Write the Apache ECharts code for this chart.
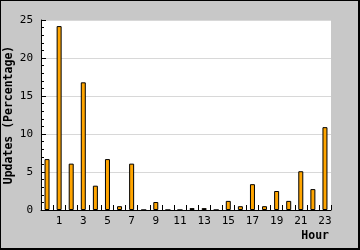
<!DOCTYPE html>
<html>
<head>
<meta charset="utf-8">
<script src="https://cdn.jsdelivr.net/npm/echarts@6/dist/echarts.min.js"></script>
<style>
html,body{margin:0;padding:0;background:#c8c8c8;}
#wrap{width:360px;height:250px;box-sizing:border-box;border-style:solid;border-color:#000;border-width:1px 2px 2px 1px;background:#c8c8c8;}
#chart{width:357px;height:247px;}
</style>
</head>
<body>
<div id="wrap"><div id="chart"></div></div>
<script>
const hours = ['0','1','2','3','4','5','6','7','8','9','10','11','12','13','14','15','16','17','18','19','20','21','22','23'];
const updates = [6.7, 24.2, 6.1, 16.8, 3.2, 6.7, 0.5, 6.1, 0, 1.05, 0, 0, 0.25, 0.25, 0, 1.2, 0.5, 3.4, 0.5, 2.5, 1.2, 5.1, 2.75, 10.9];
const yTicks = [0, 5, 10, 15, 20, 25];
const xTitle = 'Hour';
const yTitle = 'Updates (Percentage)';

const mono = 'DejaVu Sans Mono';
const chart = echarts.init(document.getElementById('chart'), null, {renderer: 'canvas'});
chart.setOption({
  animation: false,
  backgroundColor: '#c8c8c8',
  grid: {left: 40, top: 19, width: 290, height: 190, show: true, backgroundColor: '#ffffff', borderWidth: 0, containLabel: false, outerBoundsMode: 'none'},
  xAxis: {
    type: 'category',
    data: hours,
    boundaryGap: true,
    name: xTitle,
    nameLocation: 'end',
    nameGap: -2,
    nameMoveOverlap: false,
    nameTextStyle: {fontFamily: mono, fontWeight: 'bold', fontSize: 11.5, color: '#000', align: 'right', verticalAlign: 'top', padding: [20, 0, 0, 0]},
    axisLine: {show: true, lineStyle: {color: '#000', width: 1}},
    axisTick: {show: true, inside: true, length: 5, interval: 0, lineStyle: {color: '#000'}},
    axisLabel: {interval: 0, margin: 6, fontFamily: mono, fontSize: 11, color: '#000',
      formatter: (v, i) => (i % 2 === 1 ? v : '')},
    splitLine: {show: false}
  },
  yAxis: {
    type: 'value',
    min: yTicks[0],
    max: yTicks[yTicks.length - 1],
    interval: 5,
    name: yTitle,
    nameLocation: 'middle',
    nameGap: 26,
    nameMoveOverlap: false,
    nameTextStyle: {fontFamily: mono, fontWeight: 'bold', fontSize: 11.5, color: '#000'},
    axisLine: {show: true, lineStyle: {color: '#000', width: 1}},
    axisTick: {show: true, inside: true, length: 5, lineStyle: {color: '#000'}},
    minorTick: {show: true, splitNumber: 5, length: 3, lineStyle: {color: '#000'}},
    axisLabel: {margin: 8, fontFamily: mono, fontSize: 11, color: '#000'},
    splitLine: {show: true, lineStyle: {color: '#d8d8d8', width: 1}}
  },
  series: [{
    type: 'bar',
    data: updates,
    barWidth: 5,
    itemStyle: {color: '#ffa500', borderColor: '#000', borderWidth: 1}
  }]
});
</script>
</body>
</html>
